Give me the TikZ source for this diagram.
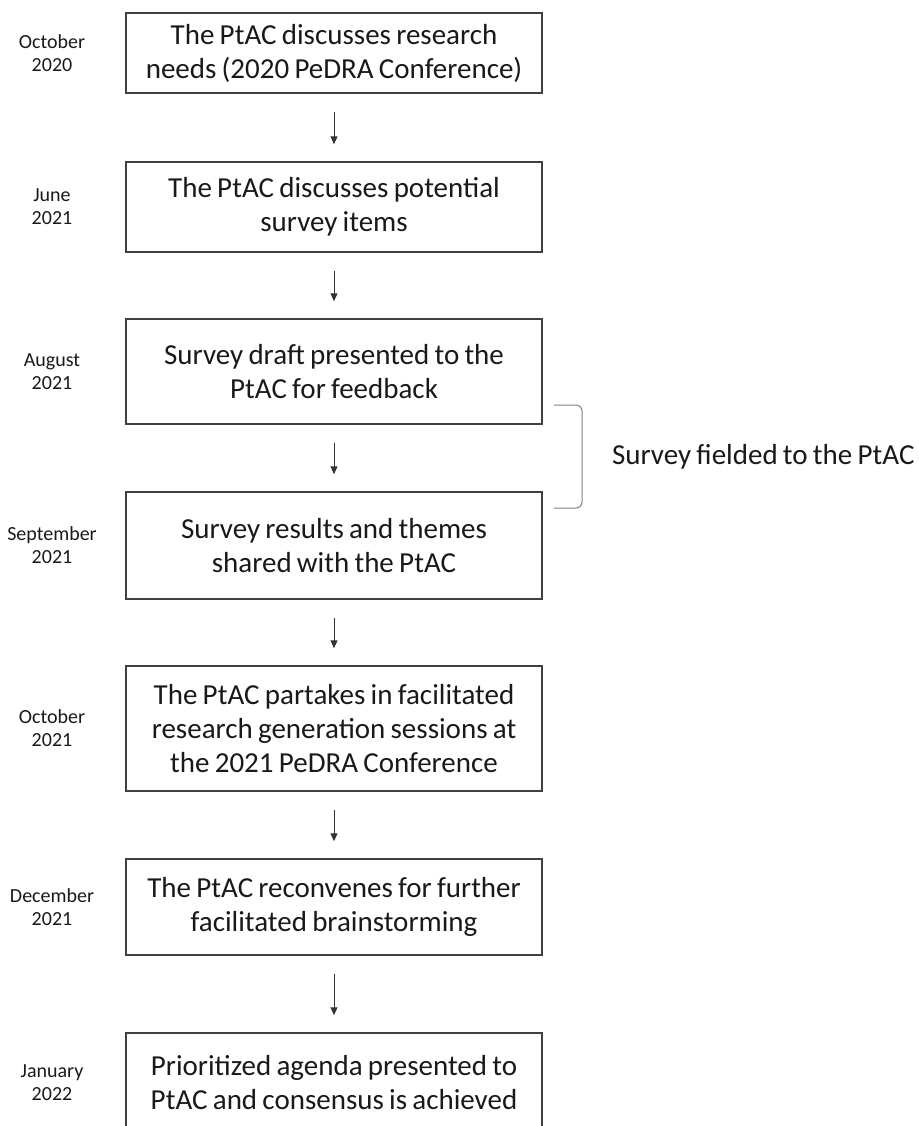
\documentclass[tikz,border=0pt]{standalone}
\usepackage{fontspec}
\setmainfont{Carlito}[WordSpace=0.8]
\usetikzlibrary{arrows.meta}

\begin{document}
\begin{tikzpicture}[
  x=0.5pt, y=-0.5pt,
  box/.style={draw=black!75, line width=0.75pt, align=flush center, text width=200pt, inner sep=4pt, text=black!90, font=\fontsize{14.5}{17}\selectfont},
  date/.style={align=flush center, text=black!90, font=\fontsize{10}{11.5}\selectfont},
  note/.style={anchor=west, text=black!90, font=\fontsize{14.5}{17}\selectfont},
  arrow/.style={-{Triangle[length=4pt,width=3.5pt]}, draw=black!80, line width=0.5pt, shorten <=9pt, shorten >=8.5pt},
  bracket/.style={draw=black!50, line width=0.5pt, rounded corners=3pt}
]
\clip (0,0) rectangle (919,1126);
\node[box, minimum height=40pt] (a) at (334,53) {The PtAC discusses research\\needs (2020 PeDRA Conference)};
\node[box, minimum height=45pt] (b) at (334,207) {The PtAC discusses potential\\survey items};
\node[box, minimum height=52.5pt] (c) at (334,371.5) {Survey draft presented to the\\PtAC for feedback};
\node[box, minimum height=53.5pt] (d) at (334,545.5) {Survey results and themes\\shared with the PtAC};
\node[box, minimum height=62.5pt] (e) at (334,728.5) {The PtAC partakes in facilitated\\research generation sessions at\\the 2021 PeDRA Conference};
\node[box, minimum height=48pt] (f) at (334,907) {The PtAC reconvenes for further\\facilitated brainstorming};
\node[box, minimum height=50pt] (g) at (334,1083) {Prioritized agenda presented to\\PtAC and consensus is achieved};
% dates
\node[date] (ta) at (52,53) {October\\2020};
\node[date] (tb) at (52,207) {June\\2021};
\node[date] (tc) at (52,371.5) {August\\2021};
\node[date] (td) at (52,545.5) {September\\2021};
\node[date] (te) at (52,728.5) {October\\2021};
\node[date] (tf) at (52,907) {December\\2021};
\node[date] (tg) at (52,1083) {January\\2022};
\draw[arrow] (a) -- (b);
\draw[arrow] (b) -- (c);
\draw[arrow] (c) -- (d);
\draw[arrow] (d) -- (e);
\draw[arrow] (e) -- (f);
\draw[arrow] (f) -- (g);
% bracket
\coordinate (brtop) at (554,405);
\coordinate (brbot) at (554,508);
\draw[bracket] (brtop) -- ++(28,0) -- ++(0,103) -- (brbot);
\node[note] (fielded) at (605,457) {Survey fielded to the PtAC};
\end{tikzpicture}
\end{document}
